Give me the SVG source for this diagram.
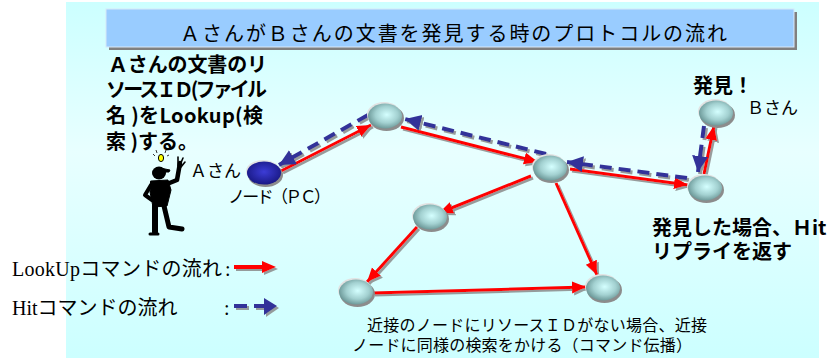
<svg xmlns="http://www.w3.org/2000/svg" xmlns:xlink="http://www.w3.org/1999/xlink" width="828" height="358" viewBox="0 0 828 358">
  <style>
    .jp { font-family: "Noto Sans CJK JP", "Noto Sans", sans-serif; fill: #000; }
    .title { font-size: 20px; }
    .note { font-size: 20px; font-weight: bold; }
    .label { font-size: 17px; }
    .small { font-size: 16px; }
    .legend { font-family: "Liberation Serif", "Noto Sans CJK JP", serif; font-size: 20px; fill: #000; }
    .lookup { fill: none; stroke: #ff0000; stroke-width: 3; marker-end: url(#headRed); }
    .hit { fill: none; stroke: #333399; stroke-width: 4; stroke-dasharray: 12 7; marker-end: url(#headBlue); }
  </style>
  <defs>
    <linearGradient id="panel" x1="0" y1="0" x2="0" y2="1">
      <stop offset="0" stop-color="#ccffff"/>
      <stop offset="0.42" stop-color="#e8ffff"/>
      <stop offset="1" stop-color="#ccffff"/>
    </linearGradient>
    <radialGradient id="peerFill" cx="0.55" cy="0.45" r="0.6">
      <stop offset="0" stop-color="#d4ffff"/>
      <stop offset="0.55" stop-color="#a3d1d1"/>
      <stop offset="1" stop-color="#638f8f"/>
    </radialGradient>
    <radialGradient id="pcFill" cx="0.5" cy="0.45" r="0.6">
      <stop offset="0" stop-color="#3c3cd6"/>
      <stop offset="1" stop-color="#16167e"/>
    </radialGradient>
    <filter id="shade" filterUnits="userSpaceOnUse" x="0" y="0" width="828" height="358">
      <feOffset in="SourceAlpha" dx="2" dy="2" result="off"/>
      <feFlood flood-color="#8a8a8a" flood-opacity="0.85"/>
      <feComposite in2="off" operator="in" result="sh"/>
      <feMerge>
        <feMergeNode in="sh"/>
        <feMergeNode in="SourceGraphic"/>
      </feMerge>
    </filter>
    <marker id="headRed" markerUnits="userSpaceOnUse" markerWidth="16" markerHeight="14" refX="14" refY="6" orient="auto">
      <path d="M0,0 L14,6 L0,12 Z" fill="#ff0000"/>
    </marker>
    <marker id="headBlue" markerUnits="userSpaceOnUse" markerWidth="18" markerHeight="18" refX="16" refY="8" orient="auto">
      <path d="M0,0 L16,8 L0,16 Z" fill="#333399"/>
    </marker>
    <g id="peer">
      <ellipse cx="1.5" cy="2" rx="17.5" ry="13" fill="#8c8c8c"/>
      <ellipse cx="-1" cy="-1.5" rx="17" ry="12.5" fill="#e2e2e2"/>
      <ellipse rx="17" ry="12.5" fill="url(#peerFill)"/>
    </g>
  </defs>

  <!-- backdrop -->
  <rect x="0" y="0" width="828" height="358" fill="#ffffff"/>
  <rect x="66" y="2" width="753" height="356" fill="url(#panel)"/>

  <!-- title banner -->
  <g id="title">
    <rect x="109" y="12" width="688" height="38" fill="#808080"/>
    <rect x="106" y="9" width="688" height="38" fill="#99ccff" stroke="#d8e8f8" stroke-width="1"/>
    <text class="jp title" x="180" y="41" textLength="547">ＡさんがＢさんの文書を発見する時のプロトコルの流れ</text>
  </g>

  <!-- explanatory notes -->
  <g id="note-request">
    <text class="jp note"><tspan x="108" y="72" textLength="159">Ａさんの文書のリ</tspan><tspan x="106" y="97" textLength="161">ソースＩＤ(ファイル</tspan><tspan x="106" y="123" textLength="157">名 )をLookup(検</tspan><tspan x="106" y="149">索 )する。</tspan></text>
  </g>
  <g id="note-found">
    <text class="jp note" x="693" y="93">発見！</text>
  </g>
  <g id="note-reply">
    <text class="jp note"><tspan x="652" y="235">発見した場合、Ｈit</tspan><tspan x="652" y="259">リプライを返す</tspan></text>
  </g>
  <g id="note-propagate">
    <text class="jp small"><tspan x="367" y="331" textLength="340">近接のノードにリソースＩＤがない場合、近接</tspan><tspan x="352" y="351" textLength="340">ノードに同様の検索をかける（コマンド伝播）</tspan></text>
  </g>

  <!-- user A -->
  <g id="user-a">
    <g fill="#000" stroke="#000" stroke-linecap="round" stroke-linejoin="round">
      <ellipse cx="159" cy="173" rx="7" ry="6.5" stroke="none"/>
      <path d="M160,168 L170,170 L169,172 L162,172 Z" stroke-width="1"/>
      <path d="M151,181 L168,180 L171,190 L167,206 L153,207 L150,192 Z" stroke-width="1"/>
      <path d="M167,184 L177,180 L180,163" fill="none" stroke-width="4.5"/>
      <path d="M178,166 L178,157 M180,165 L183,158 M181,167 L185,162" fill="none" stroke-width="1.6"/>
      <path d="M151,185 L145,195 L152,200" fill="none" stroke-width="4"/>
      <path d="M155,206 L155,232" fill="none" stroke-width="6"/>
      <path d="M150,234 L158,234" fill="none" stroke-width="3"/>
      <path d="M164,206 L169,227 L182,229" fill="none" stroke-width="5"/>
    </g>
    <ellipse cx="161" cy="158" rx="2.6" ry="3.6" fill="#ffff00" stroke="#000" stroke-width="1"/>
    <path d="M153,154 L155,156 M156,150 L157,153 M166,150 L165,153 M169,155 L167,156" stroke="#333" stroke-width="1"/>
    <text class="jp label" x="190" y="177">Ａさん</text>
  </g>

  <!-- links -->
  <g id="links" filter="url(#shade)">
    <path class="lookup" d="M281,171 L371,125"/>
    <path class="lookup" d="M401,127 L538,162"/>
    <path class="lookup" d="M570,169 L688,185"/>
    <path class="lookup" d="M704,174 L714,126"/>
    <path class="lookup" d="M531,176 L439,213"/>
    <path class="lookup" d="M556,183 L597,275"/>
    <path class="lookup" d="M417,227 L367,282"/>
    <path class="lookup" d="M373,293 L586,287"/>

    <path class="hit" d="M704,126 L698,172"/>
    <path class="hit" d="M687,178 L567,162"/>
    <path class="hit" d="M546,154 L405,119"/>
    <path class="hit" d="M368,115 L279,165"/>
  </g>

  <!-- peers -->
  <g id="node-a">
    <ellipse cx="265.5" cy="175" rx="17.5" ry="12" fill="#8c8c8c"/>
    <ellipse cx="263" cy="171.5" rx="17" ry="11.5" fill="#e2e2e2"/>
    <ellipse cx="264" cy="173" rx="17" ry="11.5" fill="url(#pcFill)"/>
    <text class="jp label" x="228" y="203" textLength="103">ノード（ＰＣ）</text>
  </g>
  <g id="node-1" transform="translate(385,116)"><use xlink:href="#peer"/></g>
  <g id="node-2" transform="translate(550,168)"><use xlink:href="#peer"/></g>
  <g id="node-3" transform="translate(705,188)"><use xlink:href="#peer"/></g>
  <g id="node-b" transform="translate(716,113)"><use xlink:href="#peer"/>
    <text class="jp label" x="31" y="1">Ｂさん</text>
  </g>
  <g id="node-4" transform="translate(430,217)"><use xlink:href="#peer"/></g>
  <g id="node-5" transform="translate(356,292)"><use xlink:href="#peer"/></g>
  <g id="node-6" transform="translate(603,288)"><use xlink:href="#peer"/></g>

  <!-- legend -->
  <g id="legend">
    <text class="legend" x="12" y="276" textLength="210">LookUpコマンドの流れ</text>
    <text class="legend" x="225" y="276">:</text>
    <text class="legend" x="12" y="315">Hitコマンドの流れ</text>
    <text class="legend" x="224" y="315">:</text>
    <g filter="url(#shade)">
      <path d="M234,267 L262,267" stroke="#ff0000" stroke-width="4" fill="none"/>
      <path d="M262,261 L276,267 L262,273 Z" fill="#ff0000"/>
      <path d="M234,306 L247,306 M254,306 L266,306" stroke="#333399" stroke-width="4" fill="none"/>
      <path d="M264,298 L277,306 L264,315 Z" fill="#333399"/>
    </g>
  </g>
</svg>
